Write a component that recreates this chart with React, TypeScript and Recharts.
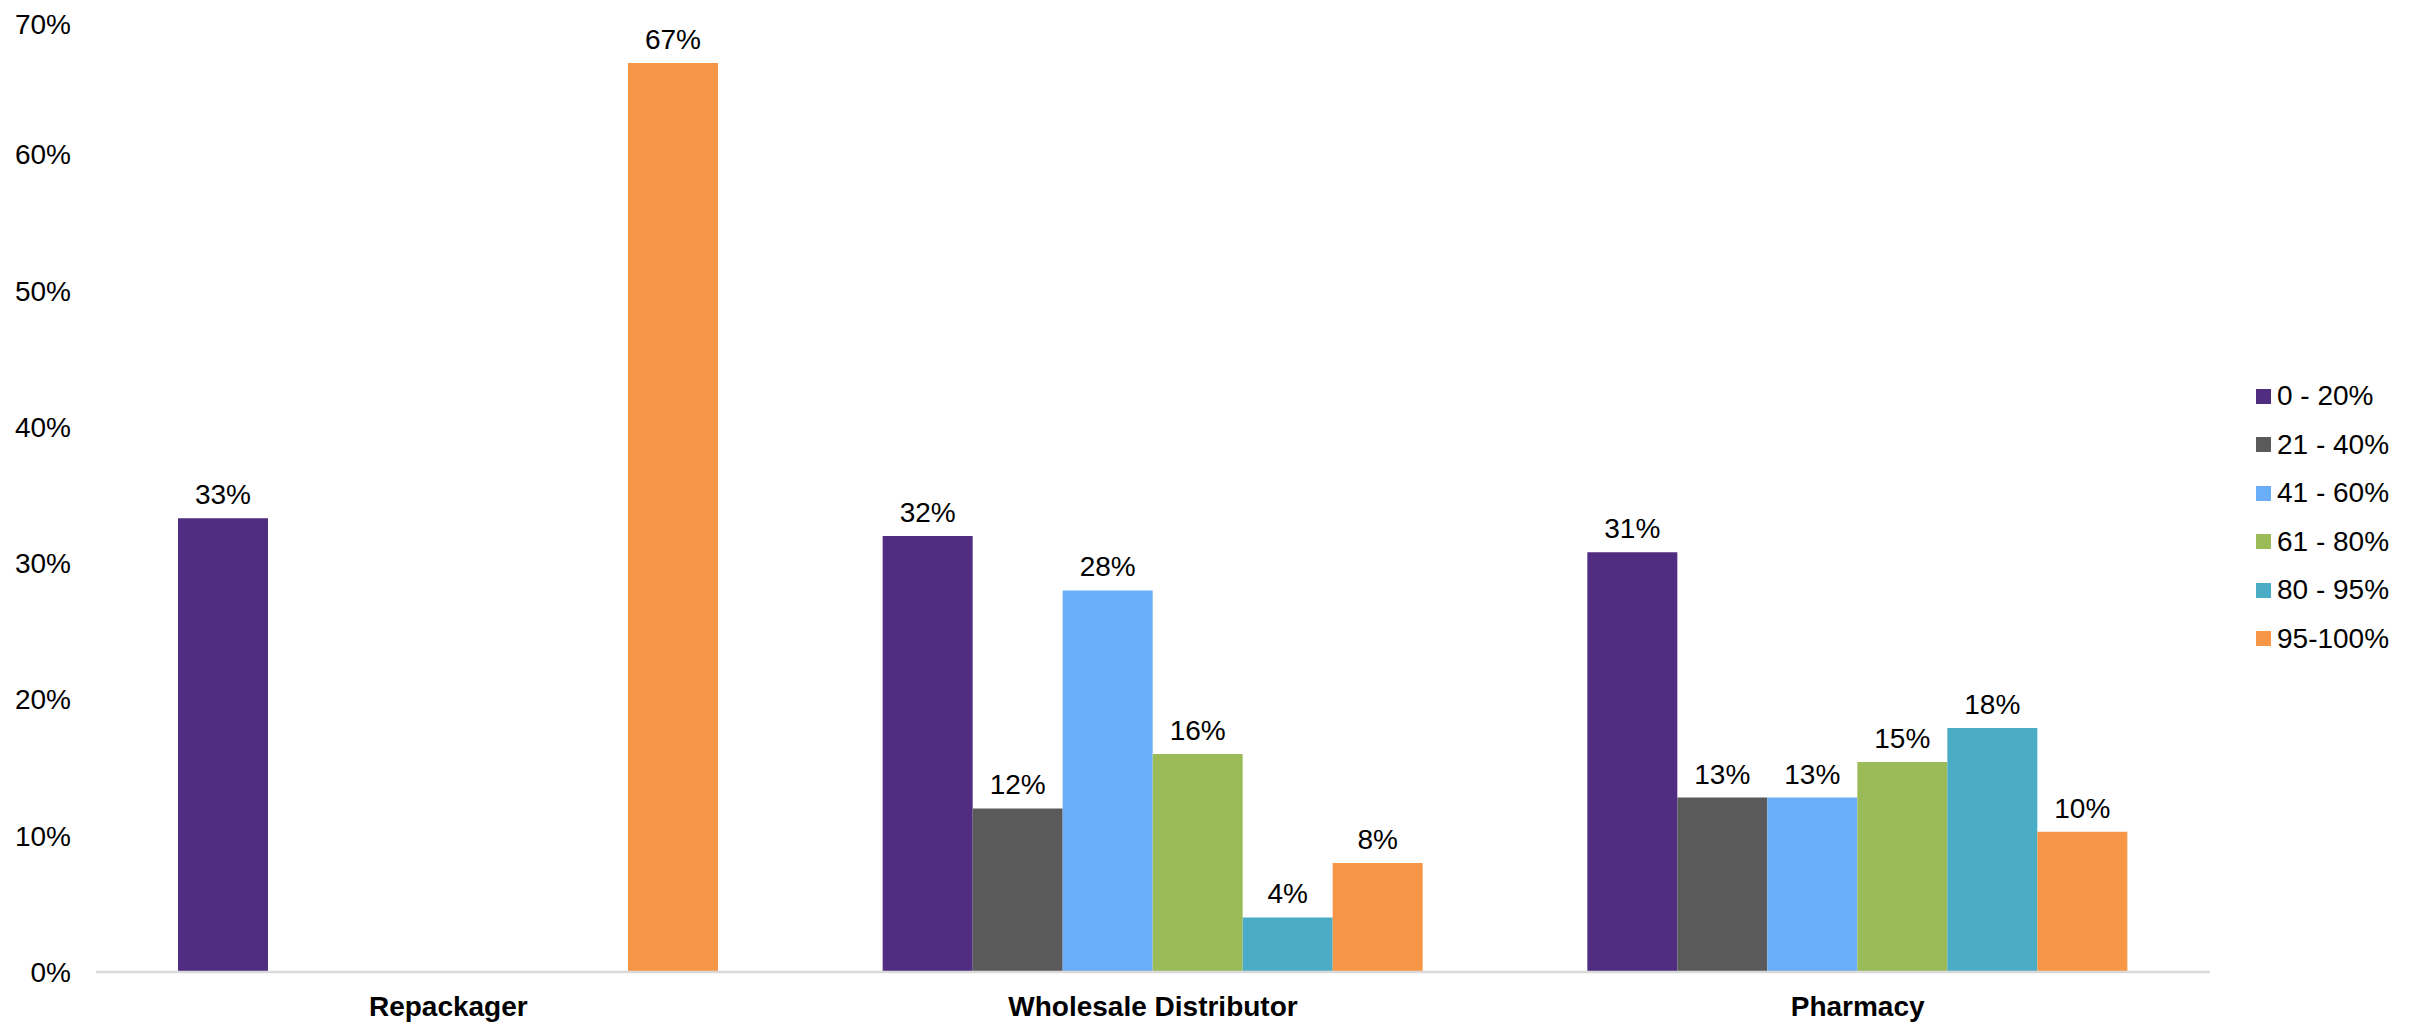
import React from 'react';
import { BarChart, Bar, XAxis, YAxis, Legend, LabelList } from 'recharts';

const categories = ['Repackager', 'Wholesale Distributor', 'Pharmacy'];

const seriesNames = ['0 - 20%', '21 - 40%', '41 - 60%', '61 - 80%', '80 - 95%', '95-100%'];
const seriesColors = ['#512D81', '#5A5A5A', '#6AADF8', '#9BBB59', '#4BACC6', '#F79646'];

// share of respondents (%) per category
const range0to20 = [33.3, 32, 30.8];
const range21to40 = [null, 12, 12.8];
const range41to60 = [null, 28, 12.8];
const range61to80 = [null, 16, 15.4];
const range80to95 = [null, 4, 17.9];
const range95to100 = [66.7, 8, 10.3];

const yTicks = [0, 10, 20, 30, 40, 50, 60, 70];

const seriesValues = [range0to20, range21to40, range41to60, range61to80, range80to95, range95to100];

const data = categories.map((name, i) => {
  const row: Record<string, any> = { name };
  seriesNames.forEach((s, k) => {
    row[s] = seriesValues[k][i];
  });
  return row;
});

const FONT = '"Liberation Sans", Arial, sans-serif';

const fmtLabel = (v: any) => (v === null || v === undefined ? '' : `${Math.round(Number(v))}%`);

const CustomLegend = () => (
  <div style={{ width: 202, paddingLeft: 46, boxSizing: 'border-box', fontFamily: FONT }}>
    {seriesNames.map((s, i) => (
      <div key={s} style={{ display: 'flex', alignItems: 'center', height: 48.5 }}>
        <span style={{ display: 'inline-block', width: 15, height: 15, background: seriesColors[i], marginRight: 6 }} />
        <span style={{ fontSize: 28, color: '#000', whiteSpace: 'nowrap' }}>{s}</span>
      </div>
    ))}
  </div>
);

export default function App() {
  return (
    <div style={{ width: 2404, height: 1019, fontFamily: FONT }}>
      <BarChart
        width={2404}
        height={1019}
        data={data}
        margin={{ top: 10, right: 0, bottom: 0, left: 8 }}
        barSize={90}
        barGap={0}
      >
        <XAxis
          dataKey="name"
          axisLine={{ stroke: '#D9D9D9', strokeWidth: 2.5 }}
          tickLine={false}
          tickSize={0}
          tickMargin={24}
          height={55}
          interval={0}
          tick={{ fill: '#000', fontSize: 28, fontWeight: 700, fontFamily: FONT }}
        />
        <YAxis
          domain={[0, 70]}
          ticks={yTicks}
          width={80}
          axisLine={false}
          tickLine={false}
          tickSize={0}
          tickMargin={25}
          tickFormatter={(v: number) => `${v}%`}
          tick={{ fill: '#000', fontSize: 28, fontFamily: FONT }}
        />
        <Legend layout="vertical" align="right" verticalAlign="middle" content={<CustomLegend />} />
        {seriesNames.map((s, i) => (
          <Bar key={s} dataKey={s} fill={seriesColors[i]} isAnimationActive={false}>
            <LabelList
              dataKey={s}
              position="top"
              offset={14}
              formatter={fmtLabel}
              style={{ fill: '#000', fontSize: 28, fontFamily: FONT }}
            />
          </Bar>
        ))}
      </BarChart>
    </div>
  );
}
